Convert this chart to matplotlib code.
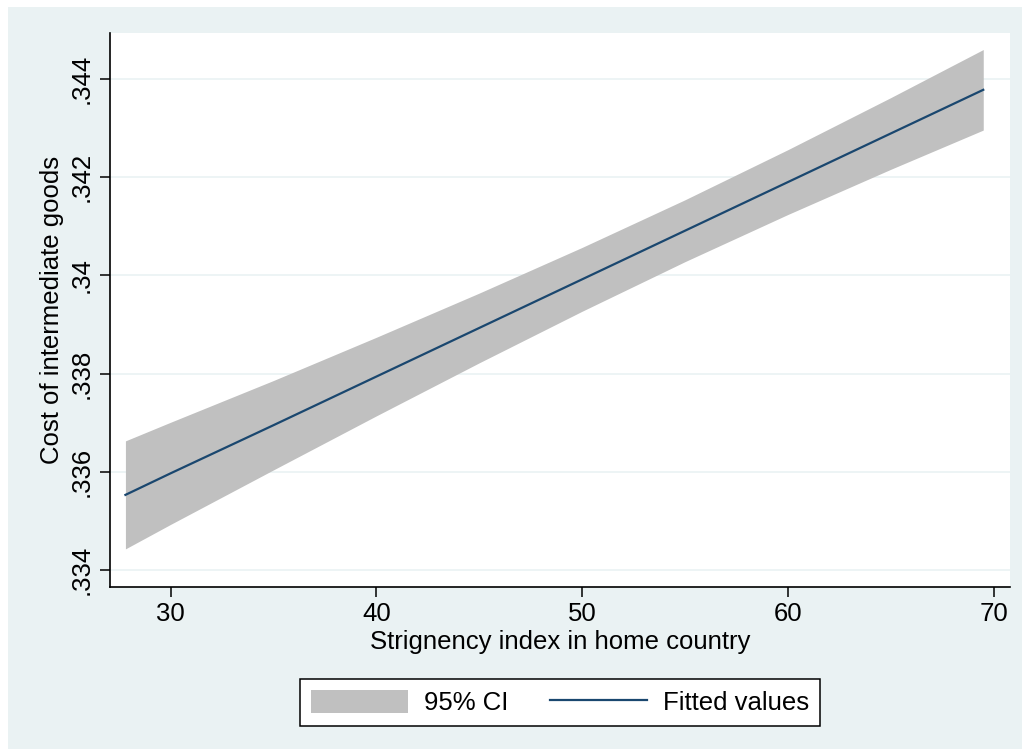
import matplotlib
matplotlib.use("Agg")
import matplotlib.pyplot as plt
from matplotlib.patches import Rectangle, Patch
from matplotlib.lines import Line2D

# Data
x_vals = [27.8, 30, 35, 40, 45, 50, 55, 60, 65, 69.5]
fitted = [0.33553, 0.33597, 0.33695, 0.33794, 0.33893, 0.33992, 0.34091, 0.34190, 0.34289, 0.34378]
ci_low = [0.33443, 0.33493, 0.33604, 0.33714, 0.33822, 0.33927, 0.34028, 0.34124, 0.34216, 0.34296]
ci_high = [0.33663, 0.33701, 0.33786, 0.33874, 0.33964, 0.34057, 0.34154, 0.34256, 0.34362, 0.34460]
x_ticks = [30, 40, 50, 60, 70]
y_ticks = [0.334, 0.336, 0.338, 0.340, 0.342, 0.344]
y_ticklabels = [".334", ".336", ".338", ".34", ".342", ".344"]
legend_labels = ["95% CI", "Fitted values"]

BG = "#EAF2F3"
CI_COL = "#C0C0C0"
LINE_COL = "#1A476F"
FS = 18.5

plt.rcParams['font.family'] = ['Liberation Sans', 'DejaVu Sans']

W, H = 1022, 749
fig = plt.figure(figsize=(W / 100, H / 100), dpi=100, facecolor="white")
fig.patches.append(Rectangle((8 / W, 0), 1 - 8 / W, 1 - 7 / H, transform=fig.transFigure,
                             facecolor=BG, edgecolor="none", zorder=-10))

ax = fig.add_axes([110 / W, 1 - 587 / H, 900 / W, 554 / H])
ax.set_facecolor("white")

ax.fill_between(x_vals, ci_low, ci_high, color=CI_COL, linewidth=0, zorder=2)
ax.plot(x_vals, fitted, color=LINE_COL, linewidth=1.6, zorder=3)

ax.set_xlim(27.05, 70.8)
ax.set_ylim(0.333654, 0.344937)
ax.set_xticks(x_ticks)
ax.set_xticklabels([str(t) for t in x_ticks])
ax.set_yticks(y_ticks)
ax.set_yticklabels(y_ticklabels, rotation=90, va="center")

ax.yaxis.grid(True, color=BG, linewidth=1.2, zorder=1)
ax.xaxis.grid(False)
ax.set_axisbelow(True)

for s in ["top", "right"]:
    ax.spines[s].set_visible(False)
for s in ["left", "bottom"]:
    ax.spines[s].set_linewidth(1.2)
    ax.spines[s].set_color("black")

ax.tick_params(axis="both", which="major", length=7, width=1.1, labelsize=FS, color="black")
ax.tick_params(axis="x", pad=4)
ax.tick_params(axis="y", pad=5)

ax.set_xlabel("Strignency index in home country", fontsize=FS, labelpad=3)
ax.set_ylabel("Cost of intermediate goods", fontsize=FS, labelpad=4)

handles = [Patch(facecolor=CI_COL, edgecolor="none"),
           Line2D([0], [0], color=LINE_COL, linewidth=1.6)]
leg = fig.legend(handles, legend_labels, loc="center", ncol=2,
                 bbox_to_anchor=(560 / W, 1 - 702.5 / H), bbox_transform=fig.transFigure,
                 fontsize=FS, frameon=True, fancybox=False, edgecolor="black",
                 handlelength=3.8, handleheight=1.05, handletextpad=0.62,
                 columnspacing=1.6, borderpad=0.4, borderaxespad=0)
leg.get_frame().set_linewidth(1.1)
leg.get_frame().set_facecolor("white")
leg.get_frame().set_alpha(1)

fig.savefig("out.png", dpi=100, facecolor=fig.get_facecolor())
